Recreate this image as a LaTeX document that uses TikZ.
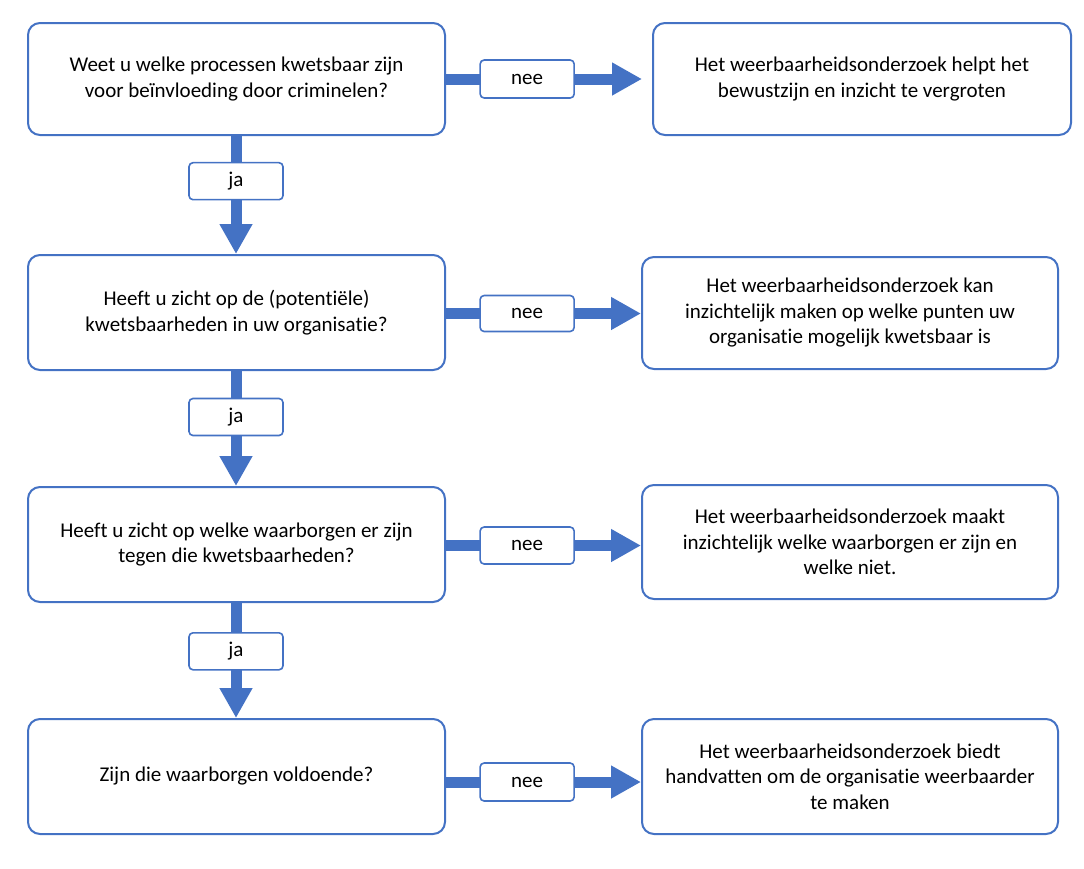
\documentclass[tikz,border=0pt]{standalone}
\usepackage{fontspec}
\setmainfont{Carlito}[Ligatures=NoCommon]
\usetikzlibrary{arrows.meta}
\definecolor{obl}{HTML}{4472C4}
\tikzset{
  qbox/.style={draw=obl, line width=2pt, rounded corners=12pt, fill=white,
    minimum width=417pt, minimum height=113pt, inner sep=0pt, align=center,
    font=\fontsize{21}{25.5}\selectfont},
  labbox/.style={draw=obl, line width=1.6pt, rounded corners=4pt, fill=white,
    minimum width=94pt, minimum height=37pt, inner sep=0pt,
    font=\fontsize{21}{25.5}\selectfont},
  flow/.style={draw=obl, line width=11pt, -{Triangle[length=30pt,width=31pt]}},
}
\begin{document}
\begin{tikzpicture}[x=1pt,y=-1pt]
\useasboundingbox (0,0) rectangle (1084,868);
% left question boxes
\node[qbox, minimum height=112pt] (L1) at (236.5,79) {Weet u welke processen kwetsbaar zijn\\voor beïnvloeding door criminelen?};
\node[qbox, minimum height=115pt] (L2) at (236.5,312.5) {Heeft u zicht op de (potentiële)\\kwetsbaarheden in uw organisatie?};
\node[qbox, minimum height=115pt] (L3) at (236.5,544.5) {Heeft u zicht op welke waarborgen er zijn\\tegen die kwetsbaarheden?};
\node[qbox, minimum height=115pt] (L4) at (236.5,776.5) {Zijn die waarborgen voldoende?};
% right answer boxes
\node[qbox, minimum width=418pt, minimum height=112pt] (R1) at (862,79) {Het weerbaarheidsonderzoek helpt het\\bewustzijn en inzicht te vergroten};
\node[qbox, minimum width=416pt, minimum height=112pt] (R2) at (850,313) {Het weerbaarheidsonderzoek kan\\inzichtelijk maken op welke punten uw\\organisatie mogelijk kwetsbaar is};
\node[qbox, minimum width=416pt, minimum height=114pt] (R3) at (850,542) {Het weerbaarheidsonderzoek maakt\\inzichtelijk welke waarborgen er zijn en\\welke niet.};
\node[qbox, minimum width=416pt, minimum height=115pt] (R4) at (850,776.5) {Het weerbaarheidsonderzoek biedt\\handvatten om de organisatie weerbaarder\\te maken};
% vertical "ja" arrows
\draw[flow] ([xshift=-0.5pt]L1.south) -- node[labbox, pos=0.383] (j1) {ja} ([xshift=-0.5pt]L2.north);
\draw[flow] ([xshift=-0.5pt]L2.south) -- node[labbox, pos=0.40] (j2) {ja} ([xshift=-0.5pt]L3.north);
\draw[flow] ([xshift=-0.5pt]L3.south) -- node[labbox, pos=0.42] (j3) {ja} ([xshift=-0.5pt]L4.north);
% horizontal "nee" arrows
\draw[flow, shorten >=10pt] (L1.east) -- node[labbox, pos=0.394, minimum height=38pt] (n1) {nee} (R1.west);
\draw[flow] ([yshift=-1pt]L2.east) -- node[labbox, pos=0.416, minimum height=36pt] (n2) {nee} ([yshift=-1pt]L2.east -| R2.west);
\draw[flow] ([yshift=-1pt]L3.east) -- node[labbox, pos=0.416] (n3) {nee} ([yshift=-1pt]L3.east -| R3.west);
\draw[flow] ([yshift=-5.5pt]L4.east) -- node[labbox, pos=0.416, minimum height=38pt] (n4) {nee} ([yshift=-5.5pt]L4.east -| R4.west);
\end{tikzpicture}
\end{document}
